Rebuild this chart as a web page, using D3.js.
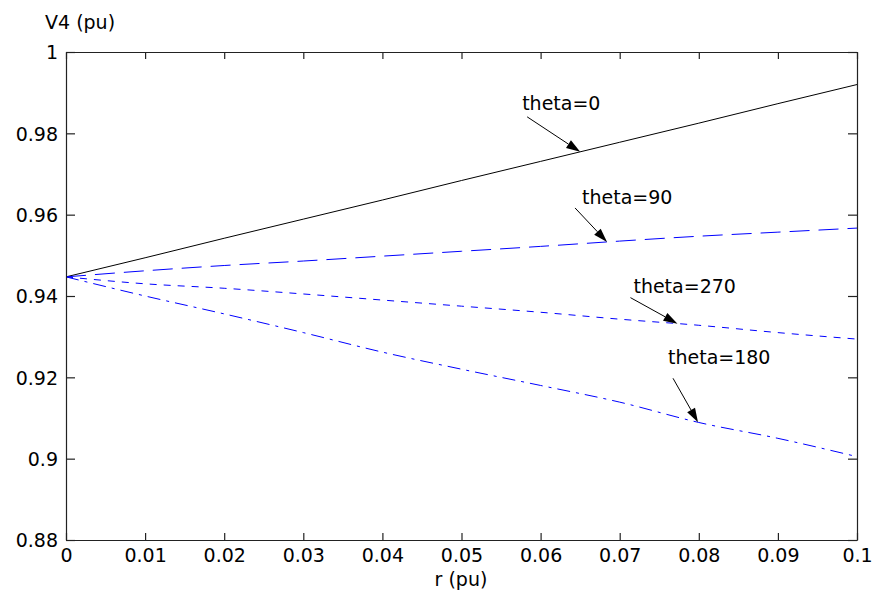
<!DOCTYPE html>
<meta charset="utf-8">
<style>
  body { margin: 0; background: #fff; }
  text { font-family: "DejaVu Sans", sans-serif; font-size: 19px; fill: #000; }
</style>
<body>
<svg width="874" height="591"></svg>
<script src="https://d3js.org/d3.v7.min.js"></script>
<script>
// values
var r = [0, 0.01, 0.02, 0.03, 0.04, 0.05, 0.06, 0.07, 0.08, 0.09, 0.1];
var theta0   = [0.9447, 0.9494, 0.9542, 0.9589, 0.9636, 0.9684, 0.9731, 0.9778, 0.9825, 0.9873, 0.9920];
var theta90  = [0.9447, 0.9462, 0.9475, 0.9486, 0.9498, 0.9510, 0.9522, 0.9535, 0.9547, 0.9557, 0.9567];
var theta270 = [0.9447, 0.9430, 0.9419, 0.9405, 0.9390, 0.9375, 0.9360, 0.9343, 0.9328, 0.9310, 0.9294];
var theta180 = [0.9447, 0.9400, 0.9356, 0.9310, 0.9262, 0.9220, 0.9180, 0.9139, 0.9089, 0.9050, 0.9005];

var seriesNames = ["theta=0", "theta=90", "theta=270", "theta=180"];
var seriesValues = [theta0, theta90, theta270, theta180];
// r where each label's arrow touches its curve
var arrowAtR = [0.065, 0.0684, 0.0773, 0.0799];

var xTicks = [0, 0.01, 0.02, 0.03, 0.04, 0.05, 0.06, 0.07, 0.08, 0.09, 0.1];
var xTickLabels = ["0", "0.01", "0.02", "0.03", "0.04", "0.05", "0.06", "0.07", "0.08", "0.09", "0.1"];
var yTicks = [0.88, 0.9, 0.92, 0.94, 0.96, 0.98, 1];
var yTickLabels = ["0.88", "0.9", "0.92", "0.94", "0.96", "0.98", "1"];

var svg = d3.select("svg");
var plotLeft = 66, plotTop = 52, plotRight = 857, plotBottom = 540;

var x = d3.scaleLinear().domain([0, 0.1]).range([plotLeft, plotRight]);
var y = d3.scaleLinear().domain([0.88, 1]).range([plotBottom, plotTop]);

// line styles, same order as the series
var colors = ["#000", "#0000ff", "#0000ff", "#0000ff"];
var dashes = [null, "20,9", "7,7", "13,6,3,6"];

var line = d3.line()
    .x(function(d) { return x(d[0]); })
    .y(function(d) { return y(d[1]); })
    .curve(d3.curveMonotoneX);

svg.append("g").selectAll("path")
    .data(seriesValues)
    .enter().append("path")
    .attr("fill", "none")
    .attr("stroke", function(d, i) { return colors[i]; })
    .attr("stroke-width", 1)
    .attr("stroke-dasharray", function(d, i) { return dashes[i]; })
    .attr("d", function(d) { return line(d.map(function(v, i) { return [r[i], v]; })); });

// axes, ticks pointing inward on all four sides
var xAxis = svg.append("g")
    .attr("transform", "translate(0," + plotBottom + ")")
    .call(d3.axisBottom(x).tickValues(xTicks).tickSizeInner(-7).tickSizeOuter(0)
        .tickFormat(function(d, i) { return xTickLabels[i]; }));
xAxis.selectAll("text").attr("y", 22).attr("dy", null);

var yAxis = svg.append("g")
    .attr("transform", "translate(" + plotLeft + ",0)")
    .call(d3.axisLeft(y).tickValues(yTicks).tickSizeInner(-9).tickSizeOuter(0)
        .tickFormat(function(d, i) { return yTickLabels[i]; }));
yAxis.selectAll("text").attr("x", -8).attr("dy", "0.36em");

svg.append("g")
    .attr("transform", "translate(0," + plotTop + ")")
    .call(d3.axisTop(x).tickValues(xTicks).tickSizeInner(-7).tickSizeOuter(0).tickFormat(""));

svg.append("g")
    .attr("transform", "translate(" + plotRight + ",0)")
    .call(d3.axisRight(y).tickValues(yTicks).tickSizeInner(-9).tickSizeOuter(0).tickFormat(""));

svg.selectAll(".domain, .tick line").attr("stroke", "#222").attr("stroke-width", 1.2);
svg.selectAll(".tick text").style("font-family", "DejaVu Sans").style("font-size", "19px").attr("fill", "#000");

// axis titles
svg.append("text").attr("x", 45).attr("y", 29).text("V4 (pu)");
svg.append("text").attr("x", 461).attr("y", 586).attr("text-anchor", "middle").text("r (pu)");

// labels with arrows
var textOffset = [[-58, -42], [-25, -38], [-44, -31], [-30, -58]];
var tailOffset = [[-53, -35], [-32, -34], [-47, -26], [-25, -44]];

function valueAt(values, rr) {
    var i = Math.min(d3.bisectRight(r, rr), r.length - 1);
    var t = (rr - r[i - 1]) / (r[i] - r[i - 1]);
    return values[i - 1] + t * (values[i] - values[i - 1]);
}

var notes = svg.append("g");
seriesNames.forEach(function(name, i) {
    var tx = x(arrowAtR[i]), ty = y(valueAt(seriesValues[i], arrowAtR[i]));
    var sx = tx + tailOffset[i][0], sy = ty + tailOffset[i][1];
    var len = Math.hypot(tx - sx, ty - sy);
    var ux = (tx - sx) / len, uy = (ty - sy) / len;
    var hl = 14, hw = 4.5;
    var bx = tx - ux * hl, by = ty - uy * hl;

    notes.append("line")
        .attr("x1", sx).attr("y1", sy).attr("x2", bx).attr("y2", by)
        .attr("stroke", "#000").attr("stroke-width", 1);
    notes.append("path")
        .attr("d", "M" + tx + "," + ty +
            "L" + (bx - uy * hw) + "," + (by + ux * hw) +
            "L" + (bx + uy * hw) + "," + (by - ux * hw) + "Z")
        .attr("fill", "#000");
    notes.append("text")
        .attr("x", tx + textOffset[i][0])
        .attr("y", ty + textOffset[i][1])
        .text(name);
});
</script>
</body>
